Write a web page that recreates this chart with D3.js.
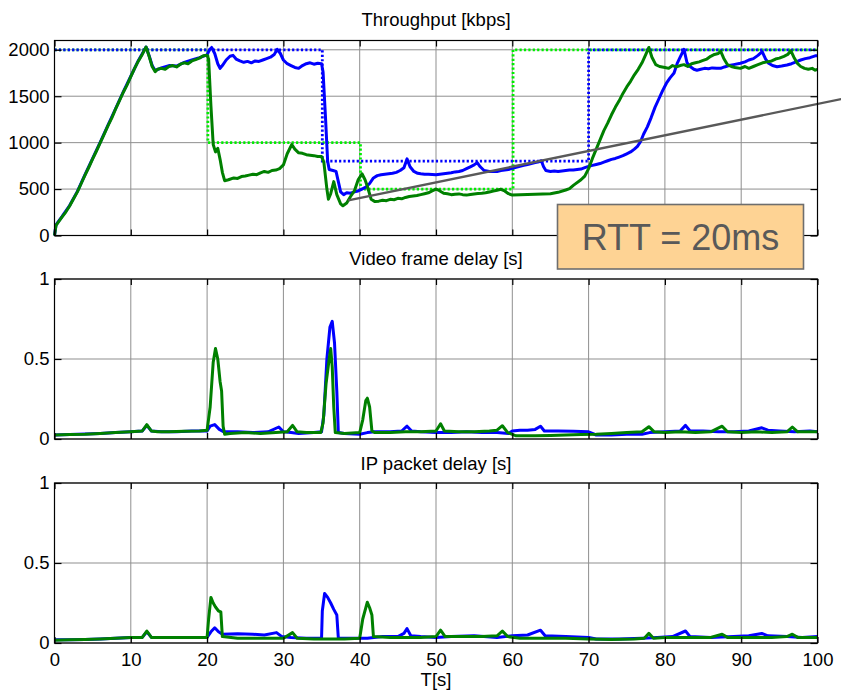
<!DOCTYPE html>
<html><head><meta charset="utf-8">
<script src="https://cdn.jsdelivr.net/npm/d3@7"></script>
<style>body{margin:0;background:#fff}svg{display:block}text{font-family:"Liberation Sans",Arial,sans-serif}</style>
</head><body><svg id="c" width="841" height="700"></svg>
<script>
// ---------------- DATA ----------------
const xTicks = [0,10,20,30,40,50,60,70,80,90,100];
const tpTicks = [0,500,1000,1500,2000];
const delayTicks = [0,0.5,1];
const delayTickLabels = ["0","0.5","1"];
const panelTitles = ["Throughput [kbps]","Video frame delay [s]","IP packet delay [s]"];
const xLabel = "T[s]";
const annotation = "RTT = 20ms";

const refBlue = [[0,2000],[35.1,2000],[35.1,800],[70,800],[70,2000],[100,2000]];
const refGreen = [[0,2000],[20.1,2000],[20.1,1000],[40.1,1000],[40.1,500],[60.1,500],[60.1,2000],[100,2000]];
const trendLine = [[38.5,378],[103.1,1469]];

const tpGreen = [[0,0],[0.2,110],[0.5,145],[1,200],[1.5,255],[2,320],[2.5,395],[3,470],[3.5,560],[4,650],[4.5,735],[5,825],[5.5,910],[6,1000],[6.5,1090],[7,1180],[7.5,1265],[8,1360],[8.5,1450],[9,1540],[9.5,1620],[10,1710],[10.5,1800],[11,1880],[11.5,1950],[12,2030],[12.4,1930],[12.8,1820],[13.2,1765],[13.5,1790],[14,1800],[14.5,1790],[15,1820],[15.5,1830],[16,1815],[16.5,1845],[17,1860],[17.5,1850],[18,1880],[18.5,1895],[19,1910],[19.5,1935],[20,1940],[20.2,1900],[20.5,1400],[20.8,980],[21.1,900],[21.4,940],[21.7,820],[22,680],[22.3,590],[22.8,600],[23.5,620],[24,615],[24.5,635],[25,640],[25.5,650],[26,660],[26.5,655],[27,675],[27.5,690],[28,680],[28.5,700],[29,705],[29.5,720],[30,760],[30.5,880],[31.1,980],[31.5,930],[32,890],[32.5,885],[33,870],[33.5,865],[34,860],[34.5,850],[35,850],[35.3,790],[35.7,500],[35.9,390],[36.2,450],[36.6,580],[37,440],[37.5,340],[37.8,320],[38.3,350],[38.8,420],[39.3,480],[39.8,600],[40.3,665],[40.7,600],[41,530],[41.5,390],[42,365],[42.5,370],[43,380],[43.5,375],[44,390],[44.5,385],[45,400],[45.5,395],[46,410],[46.5,420],[47,425],[47.5,430],[48,440],[48.5,450],[49,460],[49.5,480],[50,500],[50.4,485],[51,455],[51.5,450],[52,440],[52.5,445],[53,448],[53.5,440],[54,435],[54.5,442],[55,448],[55.5,452],[56,455],[56.5,460],[57,468],[57.5,478],[58,488],[58.5,498],[59,480],[59.5,450],[60,435],[61,440],[62,442],[63,445],[64,447],[65,450],[66,465],[67,490],[67.5,505],[68,540],[69,600],[69.5,640],[70,720],[70.5,830],[71,930],[71.5,1030],[72,1130],[72.5,1210],[73,1300],[73.5,1380],[74,1450],[74.5,1530],[75,1600],[75.5,1660],[76,1730],[76.5,1790],[77,1860],[77.5,1950],[77.9,2025],[78.3,1920],[78.8,1840],[79.3,1820],[80,1810],[80.5,1800],[81,1830],[81.5,1815],[82,1830],[82.5,1840],[83,1820],[83.5,1850],[84,1860],[84.5,1870],[85,1885],[85.5,1900],[86,1930],[86.5,1950],[87,1960],[87.3,1985],[87.7,1910],[88.2,1840],[88.7,1820],[89.2,1810],[89.9,1800],[90.5,1820],[91,1800],[91.6,1820],[92.2,1840],[92.8,1860],[93.4,1870],[94,1880],[94.5,1900],[95,1910],[95.6,1930],[96.1,1950],[96.5,1990],[96.9,1920],[97.4,1850],[97.8,1820],[98.3,1800],[98.8,1790],[99.3,1800],[99.7,1780],[100,1790]];

const tpBlue = [[0,0],[0.2,115],[0.5,150],[1,205],[2,325],[3,475],[4,655],[5,830],[6,1005],[7,1185],[8,1365],[9,1545],[10,1715],[11,1885],[12,2030],[12.4,1935],[12.8,1830],[13.2,1775],[14,1805],[15,1830],[16,1825],[17,1865],[18,1890],[19,1915],[20,1945],[20.3,2000],[20.6,2025],[21,1960],[21.4,1850],[21.7,1800],[22,1830],[22.5,1890],[23,1930],[23.4,1940],[23.8,1900],[24.3,1880],[24.8,1865],[25.3,1875],[25.8,1860],[26.3,1880],[26.8,1875],[27.3,1890],[27.8,1905],[28.3,1920],[28.8,1950],[29.2,2005],[29.6,1960],[30,1890],[30.5,1850],[31,1830],[31.5,1810],[32,1800],[32.5,1830],[33,1850],[33.5,1860],[34,1845],[34.5,1855],[35,1850],[35.2,1760],[35.5,1300],[35.8,800],[36,710],[36.5,700],[36.9,690],[37.2,580],[37.5,470],[37.9,440],[38.3,460],[38.8,455],[39.3,470],[39.8,480],[40.3,500],[40.8,520],[41.3,560],[41.8,620],[42.3,645],[42.8,655],[43.3,660],[43.8,665],[44.3,670],[44.8,680],[45.3,700],[45.8,730],[46.2,825],[46.6,740],[47.1,690],[47.6,670],[48,665],[48.5,660],[49,660],[50,655],[51,665],[52,675],[52.5,685],[53,690],[53.5,700],[54,720],[54.5,740],[55,760],[55.4,785],[55.8,740],[56.3,700],[57,690],[57.5,688],[58,690],[58.5,700],[59,705],[59.5,710],[60,725],[60.5,735],[61,745],[61.5,755],[62,765],[62.5,775],[63,785],[63.5,795],[63.8,805],[64.1,740],[64.4,700],[65,690],[65.5,695],[66,690],[66.5,695],[67,700],[67.5,705],[68,705],[68.5,710],[69,715],[69.5,730],[70,745],[70.5,755],[71,765],[71.5,775],[72,790],[72.5,805],[73,820],[73.5,830],[74,845],[74.5,860],[75,880],[75.5,900],[76,930],[76.4,960],[76.8,1010],[77.2,1090],[77.7,1170],[78.2,1270],[78.7,1380],[79.2,1470],[79.7,1560],[80.2,1640],[80.7,1700],[81.2,1750],[81.6,1850],[82,1920],[82.5,2005],[82.9,1860],[83.3,1820],[83.8,1790],[84.2,1780],[84.7,1790],[85.2,1800],[85.7,1795],[86.2,1805],[86.8,1800],[87.3,1800],[87.8,1815],[88.4,1830],[89,1840],[89.9,1855],[90.5,1870],[91,1890],[91.6,1905],[92.2,1940],[92.75,1980],[93.2,1900],[93.6,1855],[94.1,1830],[94.7,1818],[95.3,1825],[96,1836],[96.6,1850],[97.2,1870],[97.8,1890],[98.4,1905],[99,1915],[99.7,1935],[100,1935]];

const fdGreen = [[0,0.025],[2,0.028],[4,0.03],[6,0.035],[8,0.04],[10,0.045],[11.5,0.05],[12.1,0.09],[12.7,0.05],[13.5,0.045],[15,0.045],[17,0.048],[19,0.05],[20,0.055],[20.4,0.2],[20.8,0.48],[21.1,0.565],[21.4,0.5],[21.7,0.36],[21.9,0.3],[22.1,0.08],[22.3,0.03],[23,0.035],[25,0.04],[27,0.035],[29,0.04],[30.5,0.045],[31.2,0.085],[31.8,0.045],[33,0.04],[34.9,0.04],[35.2,0.1],[35.6,0.35],[36,0.5],[36.2,0.565],[36.4,0.45],[36.6,0.2],[36.8,0.04],[38,0.035],[40,0.04],[40.4,0.12],[40.8,0.24],[41,0.255],[41.3,0.2],[41.6,0.05],[42,0.04],[44,0.04],[46,0.045],[48,0.045],[50,0.05],[50.6,0.095],[51.1,0.05],[53,0.045],[55,0.045],[57,0.05],[58,0.055],[58.7,0.083],[59.4,0.04],[60.5,0.02],[63,0.02],[65,0.022],[67,0.025],[69,0.028],[71,0.03],[73,0.035],[75,0.04],[77,0.045],[77.9,0.077],[78.6,0.045],[80,0.04],[82,0.045],[84,0.04],[86,0.045],[87.5,0.08],[88.2,0.045],[90,0.04],[92,0.045],[94,0.04],[96,0.045],[96.7,0.075],[97.4,0.045],[100,0.045]];

const fdBlue = [[0,0.025],[2,0.028],[4,0.032],[6,0.035],[8,0.04],[10,0.045],[11.5,0.05],[12.1,0.085],[12.7,0.05],[14,0.045],[16,0.045],[18,0.05],[20,0.05],[20.4,0.08],[21,0.09],[21.6,0.06],[22.2,0.045],[24,0.045],[26,0.04],[28,0.045],[29.4,0.075],[30,0.045],[31,0.04],[32,0.035],[34,0.04],[35,0.045],[35.3,0.15],[35.7,0.5],[36.1,0.7],[36.4,0.735],[36.7,0.6],[37,0.3],[37.2,0.04],[38,0.035],[40,0.03],[41,0.04],[42,0.045],[44,0.045],[45.5,0.05],[46.2,0.08],[46.8,0.05],[48,0.045],[50,0.04],[52,0.04],[54,0.045],[56,0.04],[58,0.04],[59.5,0.035],[60,0.05],[61,0.055],[62,0.055],[63,0.06],[63.7,0.08],[64.2,0.05],[66,0.05],[68,0.048],[70,0.045],[71,0.025],[73,0.025],[75,0.03],[77,0.03],[78,0.04],[80,0.045],[82,0.05],[82.7,0.085],[83.3,0.05],[85,0.05],[87,0.045],[89,0.045],[91,0.05],[92.7,0.07],[93.5,0.055],[95,0.05],[97,0.045],[99,0.05],[100,0.045]];

const ipGreen = [[0,0.017],[2,0.02],[4,0.022],[6,0.025],[8,0.03],[10,0.034],[11.5,0.035],[12.1,0.075],[12.7,0.035],[14,0.035],[16,0.035],[18,0.035],[20,0.035],[20.2,0.15],[20.5,0.285],[20.8,0.25],[21.1,0.225],[21.5,0.2],[21.8,0.195],[22,0.04],[24,0.03],[26,0.03],[28,0.03],[30,0.03],[31.2,0.065],[31.8,0.03],[34,0.025],[36,0.025],[38,0.025],[40,0.03],[40.4,0.15],[41,0.255],[41.3,0.22],[41.6,0.175],[41.8,0.04],[44,0.035],[46,0.035],[48,0.035],[50,0.04],[50.6,0.08],[51.2,0.04],[54,0.04],[56,0.04],[58,0.045],[58.7,0.075],[59.4,0.04],[61,0.03],[64,0.03],[67,0.03],[70,0.025],[73,0.022],[76,0.025],[77.3,0.03],[77.9,0.06],[78.5,0.03],[80,0.035],[82,0.035],[84,0.035],[86,0.035],[87.5,0.055],[88.2,0.035],[90,0.035],[92,0.035],[94,0.035],[96,0.04],[96.7,0.055],[97.4,0.035],[100,0.035]];

const ipBlue = [[0,0.02],[2,0.02],[4,0.022],[6,0.025],[8,0.03],[10,0.034],[11.5,0.035],[12.1,0.07],[12.7,0.035],[14,0.035],[16,0.035],[18,0.035],[20,0.035],[20.5,0.07],[21,0.095],[21.5,0.07],[22,0.055],[24,0.058],[26,0.055],[27.5,0.05],[29.1,0.065],[29.8,0.04],[31,0.035],[33,0.03],[35,0.03],[35.1,0.2],[35.4,0.31],[35.8,0.285],[36.2,0.25],[36.6,0.21],[37,0.175],[37.2,0.03],[39,0.03],[41,0.03],[43,0.04],[45,0.04],[45.8,0.06],[46.2,0.09],[46.7,0.045],[48,0.04],[50,0.035],[52,0.04],[55,0.045],[58,0.035],[60,0.045],[62,0.05],[63.7,0.08],[64.3,0.045],[67,0.04],[70,0.035],[71,0.025],[74,0.025],[77,0.03],[79,0.035],[81,0.04],[82.7,0.075],[83.3,0.04],[86,0.035],[89,0.04],[91,0.045],[92.7,0.06],[93.5,0.045],[96,0.04],[98,0.035],[100,0.04]];

// ---------------- DRAW ----------------
const svg = d3.select("#c");
const FONT = 18.5;
const xL = 54.5, xR = 817.5;
const x = d3.scaleLinear().domain([0,100]).range([xL,xR]);

const panels = [
  {top:40.5, bottom:235.5, domain:[0,2100], ticks:tpTicks, labels:tpTicks.map(String), titleY:26,
   refs:[[refGreen,"#00ee00"],[refBlue,"#0000ff"]], series:[tpBlue,tpGreen]},
  {top:279, bottom:439, domain:[0,1], ticks:delayTicks, labels:delayTickLabels, titleY:265, refs:[], series:[fdBlue,fdGreen]},
  {top:483, bottom:643, domain:[0,1], ticks:delayTicks, labels:delayTickLabels, titleY:470, refs:[], series:[ipBlue,ipGreen]}
];
const colors = ["#0000ff","#008000"];

panels.forEach((p,i)=>{
  const y = d3.scaleLinear().domain(p.domain).range([p.bottom,p.top]);
  const g = svg.append("g");
  g.selectAll(".vg").data(xTicks).join("line")
    .attr("x1",d=>x(d)).attr("x2",d=>x(d)).attr("y1",p.top).attr("y2",p.bottom)
    .attr("stroke","#8f8f8f").attr("stroke-width",1);
  g.selectAll(".hg").data(p.ticks).join("line")
    .attr("x1",xL).attr("x2",xR).attr("y1",d=>y(d)).attr("y2",d=>y(d))
    .attr("stroke","#8f8f8f").attr("stroke-width",1);
  const line = d3.line().x(d=>x(d[0])).y(d=>y(d[1]));
  p.refs.forEach(([data,col])=>{
    g.append("path").attr("d",line(data)).attr("fill","none").attr("stroke",col)
      .attr("stroke-width",2.8).attr("stroke-dasharray","2.2,2.2");
  });
  p.series.forEach((data,k)=>{
    g.append("path").attr("d",line(data)).attr("fill","none").attr("stroke",colors[k])
      .attr("stroke-width",3).attr("stroke-linejoin","round");
  });
  if(i===0){
    g.append("path").attr("d",line(trendLine)).attr("fill","none").attr("stroke","#595959").attr("stroke-width",2.4);
  }
  g.append("rect").attr("x",xL).attr("y",p.top).attr("width",xR-xL).attr("height",p.bottom-p.top)
    .attr("fill","none").attr("stroke","#000").attr("stroke-width",1.2);
  const la = g.append("g").attr("transform",`translate(${xL},0)`)
    .call(d3.axisLeft(y).tickValues(p.ticks).tickFormat((d,j)=>p.labels[j]).tickSizeInner(-7).tickSizeOuter(0).tickPadding(5));
  const ra = g.append("g").attr("transform",`translate(${xR},0)`)
    .call(d3.axisRight(y).tickValues(p.ticks).tickFormat("").tickSizeInner(-7).tickSizeOuter(0));
  const ta = g.append("g").attr("transform",`translate(0,${p.top})`)
    .call(d3.axisTop(x).tickValues(xTicks).tickFormat("").tickSizeInner(-6).tickSizeOuter(0));
  const ba = g.append("g").attr("transform",`translate(0,${p.bottom})`)
    .call(d3.axisBottom(x).tickValues(xTicks).tickFormat(i===2?d3.format("d"):"").tickSizeInner(-6).tickSizeOuter(0).tickPadding(10));
  [la,ra,ta,ba].forEach(a=>{
    a.select(".domain").remove();
    a.selectAll("line").attr("stroke","#000").attr("stroke-width",1.2);
    a.selectAll("text").attr("font-size",FONT).attr("fill","#000").attr("font-family",'"Liberation Sans",Arial,sans-serif');
  });
  svg.append("text").attr("x",(xL+xR)/2).attr("y",p.titleY).attr("text-anchor","middle")
    .attr("font-size",FONT).attr("fill","#000").text(panelTitles[i]);
});

svg.append("text").attr("x",(xL+xR)/2).attr("y",686).attr("text-anchor","middle")
  .attr("font-size",FONT).attr("fill","#000").text(xLabel);

svg.append("rect").attr("x",557.5).attr("y",204.5).attr("width",246).attr("height",64.5)
  .attr("fill","#fed394").attr("stroke","#6e6e6e").attr("stroke-width",1.6);
svg.append("text").attr("x",680.5).attr("y",250).attr("text-anchor","middle")
  .attr("font-size",36).attr("fill","#595959").text(annotation);
</script></body></html>
